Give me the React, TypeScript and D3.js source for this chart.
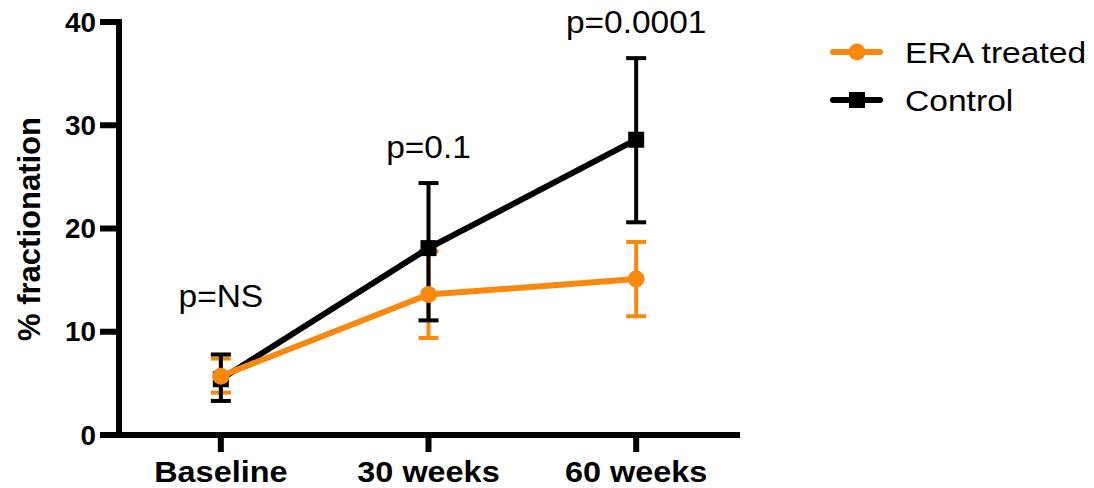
import React from "react";
import * as d3 from "d3";

const categories = ["Baseline", "30 weeks", "60 weeks"];
const eraMean = [5.7, 13.6, 15.1];
const eraLow = [4.1, 9.4, 11.5];
const eraHigh = [7.4, 17.8, 18.7];
const controlMean = [5.4, 18.1, 28.6];
const controlLow = [3.3, 11.1, 20.6];
const controlHigh = [7.8, 24.4, 36.5];
const pLabels = ["p=NS", "p=0.1", "p=0.0001"];
const pLabelValues = [12.4, 26.8, 38.9];
const yTicks = [0, 10, 20, 30, 40];
const seriesNames = ["ERA treated", "Control"];

const ORANGE = "#f7890f";
const FONT = "Arial, 'Liberation Sans', Helvetica, sans-serif";

// text stretched a little sideways, like the source figure
const Stretched = ({ x, y, sx, children, ...rest }: any) => (
  <text transform={`translate(${x},${y}) scale(${sx},1)`} {...rest}>
    {children}
  </text>
);

export default function App() {
  const width = 1094,
    height = 488;
  const x = d3.scalePoint<string>().domain(categories).range([117, 740]).padding(0.5);
  const y = d3.scaleLinear().domain([0, 40]).range([435, 22]);

  const line = d3
    .line<number>()
    .x((d, i) => x(categories[i]) as number)
    .y((d) => y(d));

  const errorBars = (low: number[], high: number[], color: string) =>
    categories.map((c, i) => {
      const cx = x(c) as number;
      return (
        <g key={c} stroke={color} strokeWidth={4} fill="none">
          <line x1={cx} x2={cx} y1={y(low[i])} y2={y(high[i])} />
          <line x1={cx - 10} x2={cx + 10} y1={y(low[i])} y2={y(low[i])} />
          <line x1={cx - 10} x2={cx + 10} y1={y(high[i])} y2={y(high[i])} />
        </g>
      );
    });

  return (
    <svg width={width} height={height} style={{ position: "absolute", left: 0, top: 0, background: "#fff" }}>
      {/* axes */}
      <g stroke="#000" strokeWidth={6} fill="none">
        <line x1={119} x2={119} y1={y(40) - 3} y2={y(0) + 3} />
        <line x1={116} x2={740} y1={y(0)} y2={y(0)} />
        {yTicks.map((t) => (
          <line key={t} x1={100} x2={119} y1={y(t)} y2={y(t)} />
        ))}
        {categories.map((c) => (
          <line key={c} x1={x(c)} x2={x(c)} y1={y(0)} y2={y(0) + 17} />
        ))}
      </g>
      <g fontFamily={FONT} fontWeight="bold" fontSize={27} textAnchor="end">
        {yTicks.map((t) => (
          <Stretched key={t} x={96} y={y(t) + 9.5} sx={1.03}>
            {t}
          </Stretched>
        ))}
      </g>
      <g fontFamily={FONT} fontWeight="bold" fontSize={30} textAnchor="middle">
        {categories.map((c) => (
          <Stretched key={c} x={x(c)} y={482} sx={1.08}>
            {c}
          </Stretched>
        ))}
      </g>
      <text
        transform="translate(40,229) rotate(-90)"
        fontFamily={FONT}
        fontWeight="bold"
        fontSize={31}
        textAnchor="middle"
      >
        % fractionation
      </text>

      {/* error bars */}
      {errorBars(eraLow, eraHigh, ORANGE)}
      {errorBars(controlLow, controlHigh, "#000")}

      {/* control series */}
      <path d={line(controlMean) || ""} stroke="#000" strokeWidth={6} fill="none" />
      {categories.map((c, i) => (
        <rect key={c} x={(x(c) as number) - 8} y={y(controlMean[i]) - 8} width={16} height={16} fill="#000" />
      ))}

      {/* ERA series */}
      <path d={line(eraMean) || ""} stroke={ORANGE} strokeWidth={6} fill="none" />
      {categories.map((c, i) => (
        <circle key={c} cx={x(c)} cy={y(eraMean[i])} r={8.5} fill={ORANGE} />
      ))}

      {/* p values */}
      <g fontFamily={FONT} fontSize={31} textAnchor="middle">
        {categories.map((c, i) => (
          <Stretched key={c} x={x(c)} y={y(pLabelValues[i])} sx={1.08}>
            {pLabels[i]}
          </Stretched>
        ))}
      </g>

      {/* legend */}
      <g fontFamily={FONT} fontSize={30}>
        {seriesNames.map((n, i) => {
          const ly = 52 + i * 48;
          const color = i === 0 ? ORANGE : "#000";
          return (
            <g key={n}>
              <line x1={833} x2={880} y1={ly} y2={ly} stroke={color} strokeWidth={6} strokeLinecap="round" />
              {i === 0 ? (
                <circle cx={857} cy={ly} r={8.5} fill={color} />
              ) : (
                <rect x={849} y={ly - 8} width={16} height={16} fill={color} />
              )}
              <Stretched x={905} y={ly + 11} sx={1.12}>
                {n}
              </Stretched>
            </g>
          );
        })}
      </g>
    </svg>
  );
}
